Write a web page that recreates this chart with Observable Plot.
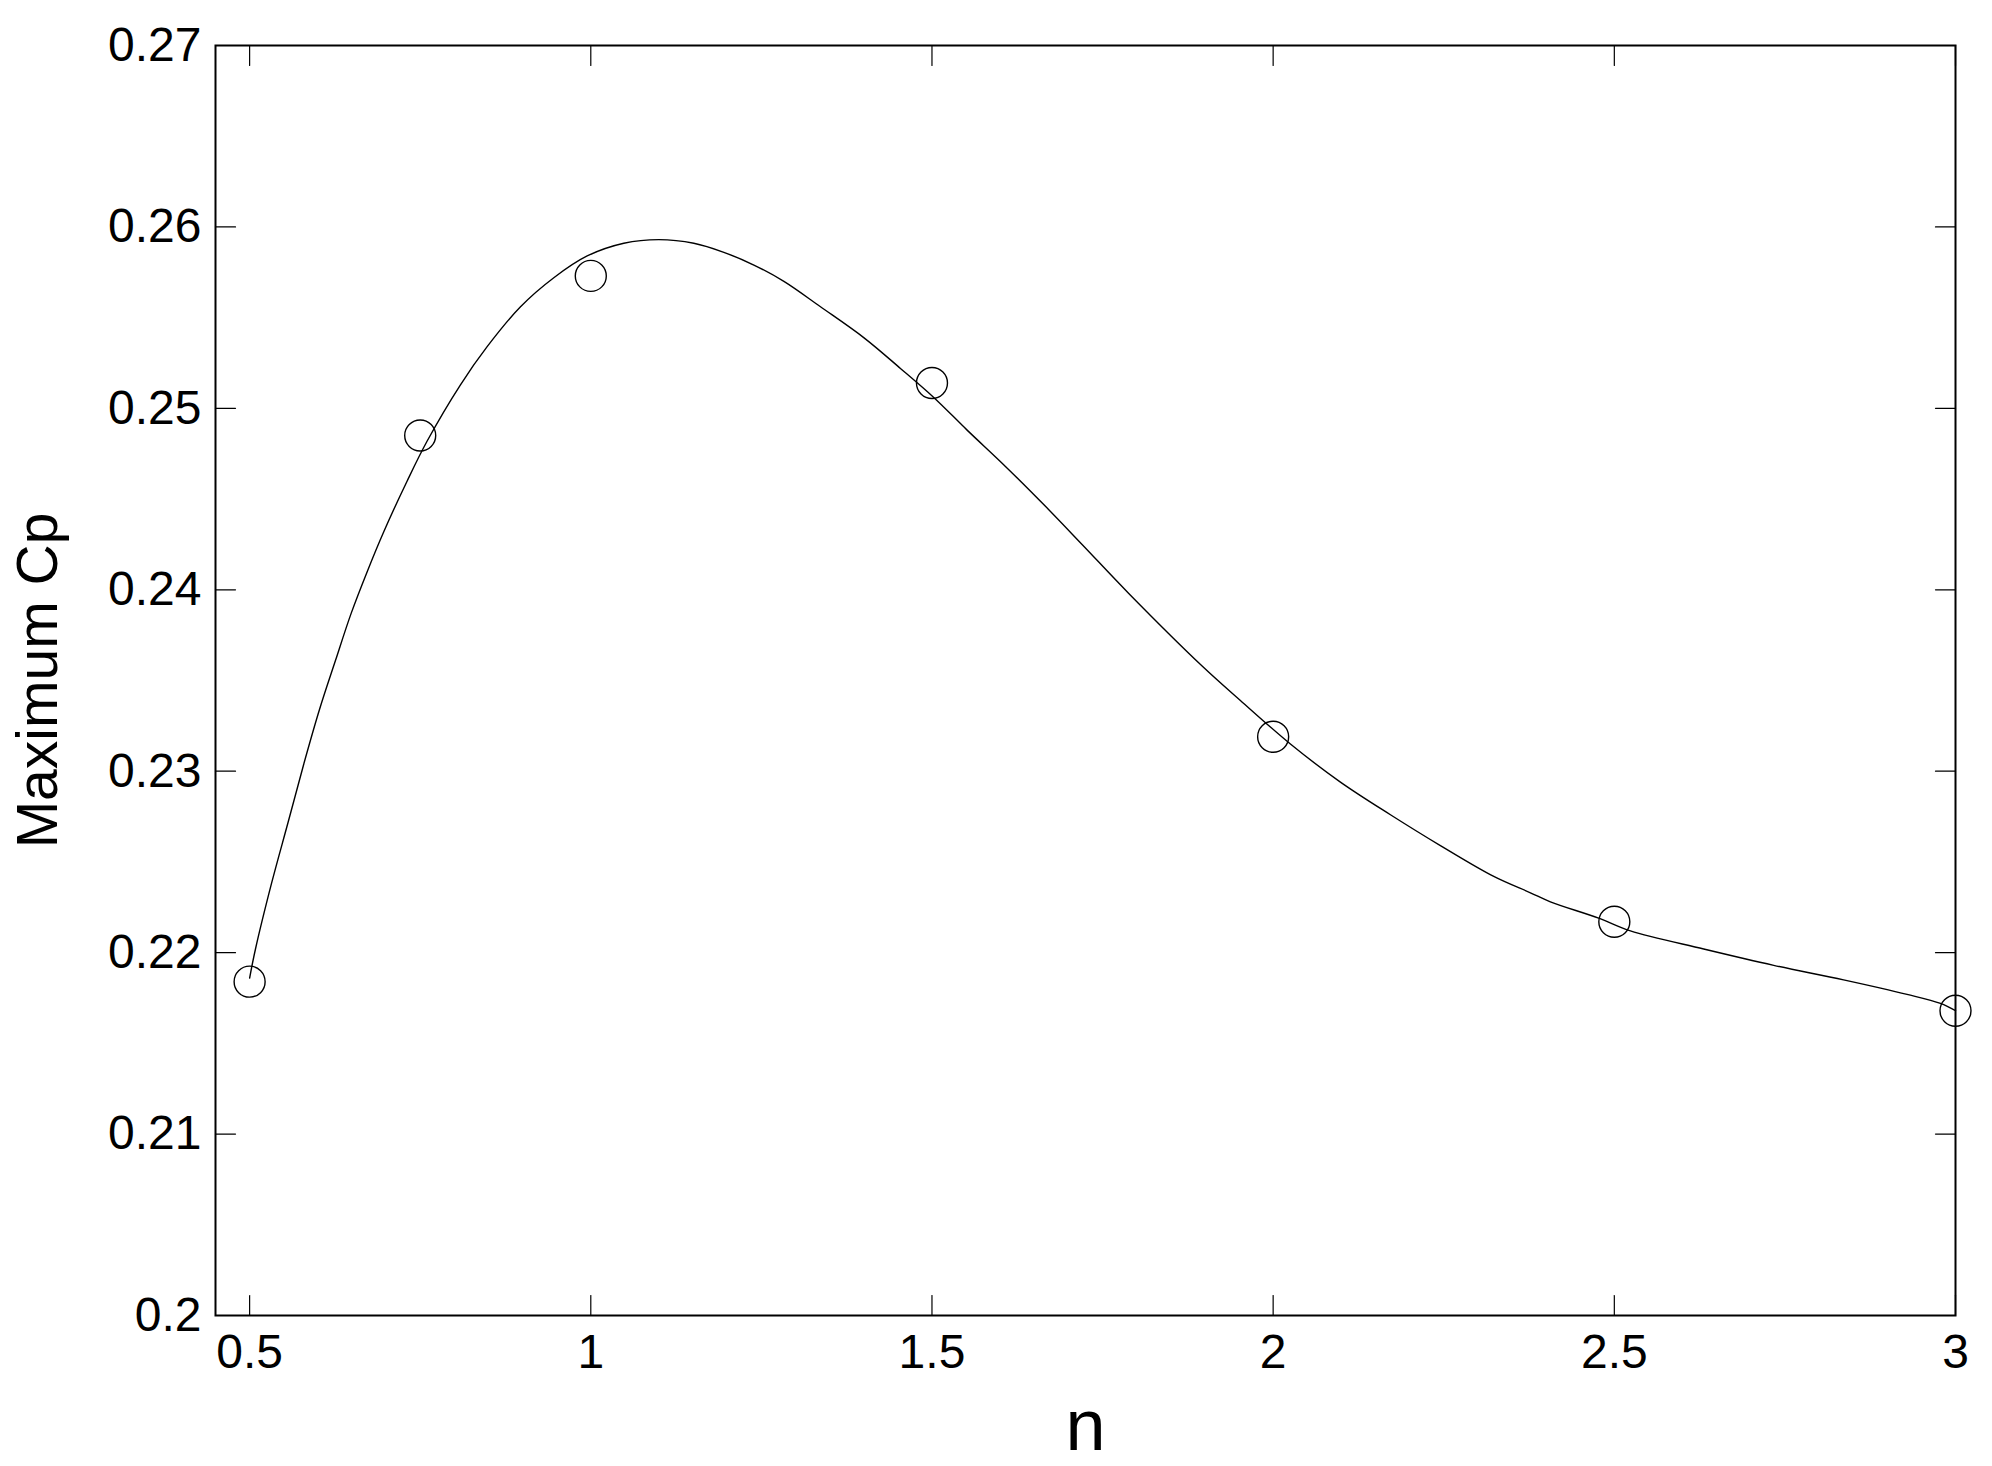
<!DOCTYPE html>
<html>
<head>
<meta charset="utf-8">
<script src="https://cdn.jsdelivr.net/npm/d3@7"></script>
<script src="https://cdn.jsdelivr.net/npm/@observablehq/plot@0.6"></script>
<style>
  html, body { margin: 0; padding: 0; background: #fff; overflow: hidden; }
  #chart svg { display: block; }
</style>
</head>
<body>
<div id="chart"></div>
<script>
// Measured points (circles)
const pointN  = [0.5, 0.75, 1, 1.5, 2, 2.5, 3];
const pointCp = [0.2184, 0.2485, 0.2573, 0.2514, 0.2319, 0.2217, 0.2168];

// Fitted curve
const curveN  = [0.5, 0.5086, 0.532, 0.5565, 0.5794, 0.6024, 0.6258, 0.6488, 0.6723, 0.6966, 0.7309, 0.7602, 0.809, 0.8481, 0.897, 0.9458, 0.9947, 1.0484, 1.0997, 1.151, 1.195, 1.239, 1.283, 1.3366, 1.40, 1.4538, 1.5026, 1.5515, 1.6077, 1.6663, 1.72, 1.7884, 1.8959, 1.952, 2.0253, 2.0986, 2.1719, 2.2451, 2.3233, 2.377, 2.4063, 2.477, 2.5236, 2.631, 2.7336, 2.836, 2.929, 2.978, 3.0];
const curveCp = [0.2186, 0.2202, 0.2238, 0.2272, 0.2304, 0.2334, 0.2361, 0.2387, 0.2410, 0.2432, 0.2460, 0.2482, 0.2513, 0.2534, 0.2556, 0.2572, 0.2584, 0.2591, 0.2593, 0.2591, 0.2586, 0.2579, 0.2570, 0.2556, 0.2539, 0.2522, 0.2506, 0.2488, 0.2468, 0.2446, 0.2425, 0.2398, 0.2358, 0.2339, 0.2315, 0.2294, 0.2276, 0.2259, 0.2242, 0.2233, 0.2228, 0.2219, 0.2212, 0.2202, 0.2193, 0.2185, 0.2177, 0.2172, 0.2168];

const xTicks = [0.5, 1, 1.5, 2, 2.5, 3];
const yTicks = [0.2, 0.21, 0.22, 0.23, 0.24, 0.25, 0.26, 0.27];
const xDomain = [0.45, 3];
const yDomain = [0.2, 0.27];
const xLabel = "n";
const yLabel = "Maximum Cp";

const points = pointN.map((n, i) => ({n, cp: pointCp[i]}));
const curve = curveN.map((n, i) => ({n, cp: curveCp[i]}));

const tickShape = {draw(ctx, l) { ctx.moveTo(0, 0); ctx.lineTo(0, -l); }};
const tickStyle = {length: 20, anchor: "start", shape: tickShape, stroke: "black", strokeWidth: 1.2};

const chart = Plot.plot({
  width: 1992,
  height: 1466,
  marginLeft: 215,
  marginRight: 37,
  marginTop: 45,
  marginBottom: 151,
  style: {fontFamily: "'Liberation Sans', Arial, Helvetica, sans-serif", background: "white", color: "black"},
  x: {domain: xDomain},
  y: {domain: yDomain},
  marks: [
    Plot.axisX({ticks: xTicks, tickSize: 0, tickPadding: 18, fontSize: 48, label: null, tickFormat: d => String(d)}),
    Plot.axisY({ticks: yTicks, tickSize: 0, tickPadding: 14, fontSize: 48, label: null, tickFormat: d => String(d)}),
    Plot.vector(yTicks, {y: d => d, frameAnchor: "left", rotate: 90, ...tickStyle}),
    Plot.vector(yTicks, {y: d => d, frameAnchor: "right", rotate: -90, ...tickStyle}),
    Plot.vector(xTicks, {x: d => d, frameAnchor: "bottom", rotate: 0, ...tickStyle}),
    Plot.vector(xTicks, {x: d => d, frameAnchor: "top", rotate: 180, ...tickStyle}),
    Plot.line(curve, {x: "n", y: "cp", stroke: "black", strokeWidth: 1.4, curve: "catmull-rom"}),
    Plot.dot(points, {x: "n", y: "cp", r: 15.5, stroke: "black", strokeWidth: 1.4, fill: "none"}),
    Plot.frame({stroke: "black", strokeWidth: 2}),
    Plot.text([xLabel], {text: d => d, frameAnchor: "bottom", lineAnchor: "bottom", dy: 134, fontSize: 72}),
    Plot.text([yLabel], {text: d => d, frameAnchor: "left", rotate: -90, textAnchor: "middle", lineAnchor: "middle", dx: -177, fontSize: 57})
  ]
});
document.getElementById("chart").appendChild(chart);
</script>
</body>
</html>
